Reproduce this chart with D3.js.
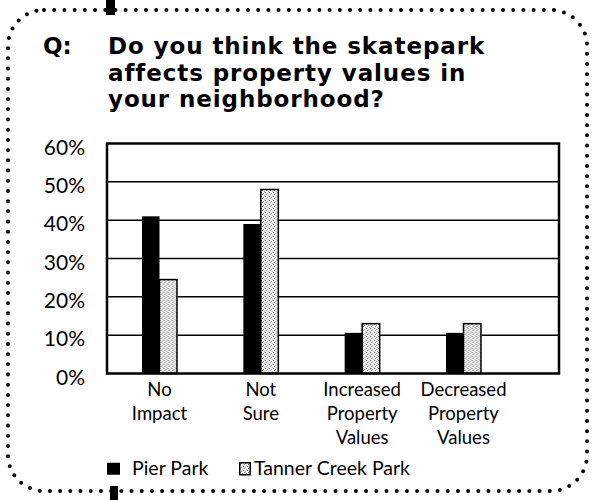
<!DOCTYPE html>
<html>
<head>
<meta charset="utf-8">
<script src="https://cdn.jsdelivr.net/npm/d3@7"></script>
<style>
  html, body { margin: 0; padding: 0; background: #fff; }
  svg { display: block; }
  text { font-family: Lato, "Open Sans", sans-serif; fill: #000; }
</style>
</head>
<body>
<svg id="chart" width="592" height="500"></svg>
<script>
// Survey responses (% of respondents)
const categories = ["No Impact", "Not Sure", "Increased Property Values", "Decreased Property Values"];
const categoryLines = [["No", "Impact"], ["Not", "Sure"], ["Increased", "Property", "Values"], ["Decreased", "Property", "Values"]];
const seriesNames = ["Pier Park", "Tanner Creek Park"];
const pierPark = [41, 39, 10.6, 10.6];
const tannerCreekPark = [24.5, 48, 13, 13];
const yTicks = [0, 10, 20, 30, 40, 50, 60];
const titleLines = ["Do you think the skatepark", "affects property values in", "your neighborhood?"];

const svg = d3.select("#chart");

// stipple fill for the second series
const defs = svg.append("defs");
const pat = defs.append("pattern")
  .attr("id", "stipple").attr("patternUnits", "userSpaceOnUse")
  .attr("width", 4).attr("height", 4);
pat.append("rect").attr("width", 4).attr("height", 4).attr("fill", "#fff");
[[0, 0, "#444"], [2, 1, "#888"], [1, 2, "#666"], [3, 3, "#999"]].forEach(([x, y, c]) =>
  pat.append("rect").attr("x", x).attr("y", y).attr("width", 1).attr("height", 1).attr("fill", c));

// dotted rounded frame
svg.append("rect")
  .attr("x", 8).attr("y", 10).attr("width", 579).attr("height", 481)
  .attr("rx", 36).attr("ry", 36)
  .attr("fill", "none").attr("stroke", "#000")
  .attr("stroke-width", 4).attr("stroke-linecap", "round")
  .attr("stroke-dasharray", "0 10.2");
// registration marks
svg.append("rect").attr("x", 106).attr("y", 0).attr("width", 9).attr("height", 15).attr("fill", "#000");
svg.append("rect").attr("x", 110).attr("y", 486).attr("width", 8).attr("height", 14).attr("fill", "#000");

// title
const titleFont = "'DejaVu Sans', Verdana, sans-serif";
svg.append("text").attr("x", 43).attr("y", 54)
  .style("font-family", titleFont)
  .attr("font-size", 23).attr("font-weight", 700).text("Q:");
svg.append("g").selectAll("text").data(titleLines).join("text")
  .attr("x", 108).attr("y", (d, i) => 54 + i * 26.5)
  .style("font-family", titleFont)
  .attr("font-size", 23).attr("font-weight", 700)
  .attr("letter-spacing", 0.9)
  .text(d => d);

// plot area
const plot = { left: 107, right: 559, top: 143.5, bottom: 373.5 };
const y = d3.scaleLinear().domain([0, 60]).range([plot.bottom, plot.top]);
const x = d3.scalePoint().domain(categories).range([159.5, 463.5]);
const xSeries = d3.scaleBand().domain(seriesNames).range([-17.5, 17.5]);

// gridlines
svg.append("g").selectAll("line").data(yTicks.slice(1, -1)).join("line")
  .attr("x1", plot.left).attr("x2", plot.right)
  .attr("y1", d => y(d)).attr("y2", d => y(d))
  .attr("stroke", "#000").attr("stroke-width", 1.5);

// y axis labels
const yAxis = d3.axisLeft(y).tickValues(yTicks).tickFormat(d => d + "%").tickSize(0).tickPadding(22);
const ya = svg.append("g").attr("transform", `translate(${plot.left},0)`).call(yAxis);
ya.select(".domain").remove();
ya.selectAll("text").attr("font-size", 21).attr("font-family", "Lato, sans-serif")
  .attr("dy", "0.5em").attr("fill", "#000");

// bars
const rows = categories.map((c, i) => ({ c, vals: [pierPark[i], tannerCreekPark[i]] }));
const groups = svg.append("g").selectAll("g").data(rows).join("g")
  .attr("transform", d => `translate(${x(d.c)},0)`);
groups.selectAll("rect").data(d => d.vals.map((v, k) => ({ s: seriesNames[k], v }))).join("rect")
  .attr("x", d => xSeries(d.s))
  .attr("width", xSeries.bandwidth())
  .attr("y", d => y(d.v))
  .attr("height", d => y(0) - y(d.v))
  .attr("fill", d => d.s === seriesNames[0] ? "#000" : "url(#stipple)")
  .attr("stroke", "#000")
  .attr("stroke-width", d => d.s === seriesNames[0] ? 0 : 1.5);

// frame of the plot area
svg.append("rect")
  .attr("x", plot.left).attr("y", plot.top)
  .attr("width", plot.right - plot.left).attr("height", plot.bottom - plot.top)
  .attr("fill", "none").attr("stroke", "#000").attr("stroke-width", 2.5);

// category labels
const catG = svg.append("g").selectAll("text").data(categories).join("text")
  .attr("x", d => x(d)).attr("y", 396)
  .attr("text-anchor", "middle").attr("font-size", 18.5);
catG.selectAll("tspan").data((d, i) => categoryLines[i]).join("tspan")
  .attr("x", function () { return d3.select(this.parentNode).attr("x"); })
  .attr("dy", (d, i) => i === 0 ? 0 : 24)
  .text(d => d);

// legend
const legendX = [107, 239];
const leg = svg.append("g").selectAll("g").data(seriesNames).join("g")
  .attr("transform", (d, i) => `translate(${legendX[i]},462)`);
leg.append("rect")
  .attr("x", (d, i) => i === 0 ? 0 : 0.75).attr("y", 0.75)
  .attr("width", (d, i) => i === 0 ? 13 : 10.5).attr("height", 12)
  .attr("fill", (d, i) => i === 0 ? "#000" : "url(#stipple)")
  .attr("stroke", "#000").attr("stroke-width", (d, i) => i === 0 ? 0 : 1.5);
leg.append("text")
  .attr("x", (d, i) => i === 0 ? 25 : 15).attr("y", 12.5)
  .attr("font-size", 19.5).text(d => d);
</script>
</body>
</html>
